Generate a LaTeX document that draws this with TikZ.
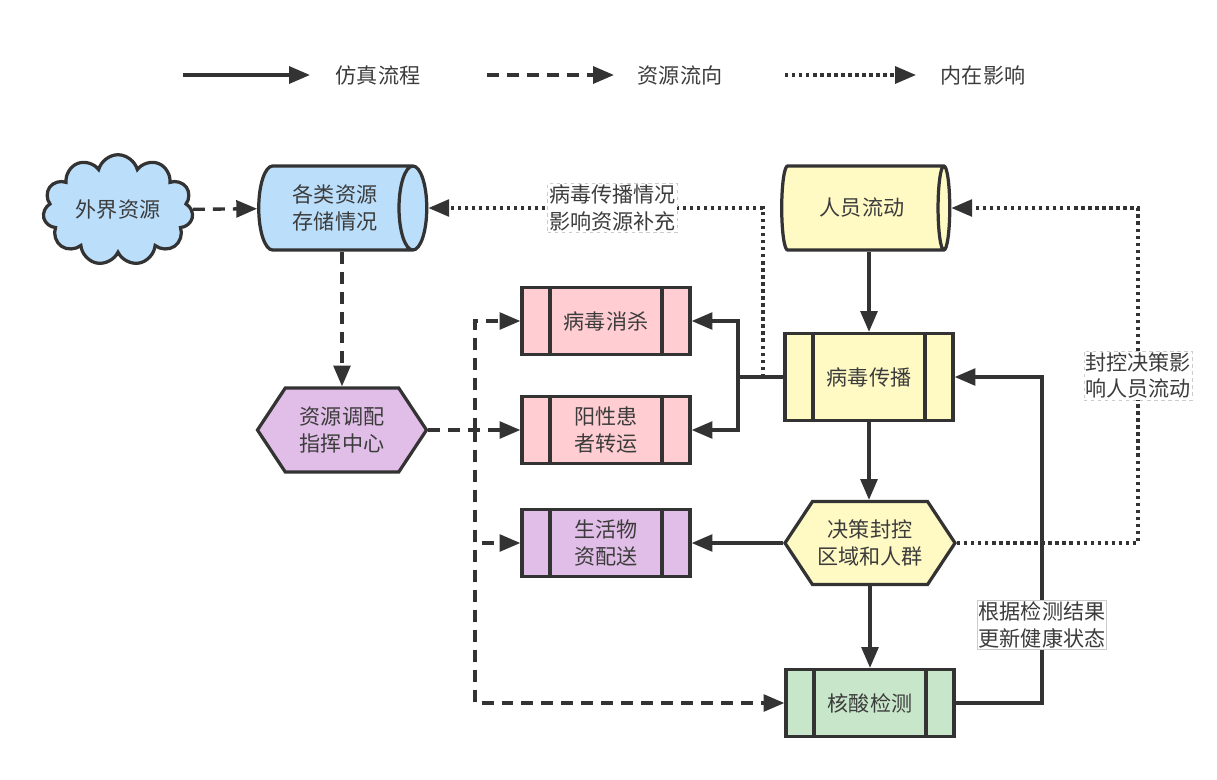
\documentclass[tikz,border=0pt]{standalone}
\usepackage{fontspec}
\setmainfont{Noto Sans CJK SC}
\usepackage{tikz}
\usetikzlibrary{arrows.meta,shapes,positioning}
\usepackage{xcolor}
\definecolor{lc}{HTML}{333333}
\definecolor{txt}{HTML}{3C3C3C}
\definecolor{cblue}{HTML}{BBDEFB}
\definecolor{cyellow}{HTML}{FFF9C4}
\definecolor{cpink}{HTML}{FFCDD2}
\definecolor{cpurple}{HTML}{E1BEE7}
\definecolor{cgreen}{HTML}{C8E6C9}

\begin{document}
\begin{tikzpicture}[x=0.025cm, y=-0.025cm]
	\fontsize{15pt}{19pt}\selectfont
	\newcommand\lw{2.3pt}
	\newcommand\bw{4.2cm}
	\newcommand\bh{1.675cm}
	\newcommand\sidebar{0.7cm}
	\tikzset{
		every node/.style = {text=txt, align=center},
		link/.style = {draw=lc, line width=2.4pt, -{Triangle[length=5.2mm, width=4.2mm]}},
		simflow/.style = {link},
		resflow/.style = {link, dash pattern=on 8.5pt off 5.7pt},
		effect/.style = {link, dash pattern=on 2.4pt off 2.6pt},
		procbox/.style = {
			draw=lc, line width=\lw, minimum width=\bw, minimum height=\bh,
			path picture={
				\draw[lc, line width=\lw]
					([xshift=\sidebar]path picture bounding box.north west) --
					([xshift=\sidebar]path picture bounding box.south west)
					([xshift=-\sidebar]path picture bounding box.north east) --
					([xshift=-\sidebar]path picture bounding box.south east);
			},
		},
		hexbox/.style = {
			signal, signal to=west and east, signal pointer angle=113,
			draw=lc, line width=\lw, minimum width=4.225cm, minimum height=2.1cm, inner sep=0pt,
		},
		drum/.style = {
			cylinder, shape aspect=0.6, draw=lc, line width=\lw,
			minimum width=2.1cm, minimum height=4.2cm, inner sep=0pt,
		},
		lbl/.style = {fill=white, draw=black!20, line width=0.5pt, inner sep=1pt},
	}
	\useasboundingbox (0,0) rectangle (1217,779);

	% legend
	\coordinate (l1a) at (183,75);
	\coordinate (l1b) at (310,75);
	\coordinate (l2a) at (487,75);
	\coordinate (l2b) at (614,75);
	\coordinate (l3a) at (785,75);
	\coordinate (l3b) at (916,75);
	\node (leg1) at (378,75) {仿真流程};
	\node (leg2) at (680,75) {资源流向};
	\node (leg3) at (983,75) {内在影响};
	\draw[simflow] (l1a) -- (l1b);
	\draw[resflow] (l2a) -- (l2b);
	\draw[effect] (l3a) -- (l3b);

	% resource side
	\node[cloud, cloud puffs=11, aspect=1.35, draw=lc, line width=\lw, fill=cblue,
		minimum width=3.75cm, minimum height=2.75cm, inner sep=0pt] (ext) at (118,210) {外界资源};
	\node[drum, fill=cblue] (store) at (335,208) {各类资源\\存储情况};
	\node[hexbox, fill=cpurple] (dispatch) at (342,430) {资源调配\\指挥中心};

	% measures
	\node[procbox, fill=cpink] (disinf) at (606,321) {病毒消杀};
	\node[procbox, fill=cpink] (transfer) at (606,430) {阳性患\\者转运};
	\node[procbox, fill=cpurple] (supply) at (606,543) {生活物\\资配送};

	% epidemic side
	\node[drum, fill=cyellow] (people) at (862,208) {人员流动};
	\node[procbox, fill=cyellow, minimum height=2.175cm] (spread) at (869,377) {病毒传播};
	\node[hexbox, fill=cyellow, minimum width=4.25cm, minimum height=2.075cm] (lockdown) at (870,543) {决策封控\\区域和人群};
	\node[procbox, fill=cgreen] (test) at (870,703) {核酸检测};

	% helper points
	\coordinate (bus) at (475,430);
	\coordinate (split) at (738,377);
	\coordinate (tap) at (763,377);
	\coordinate (fb) at (1042,703);
	\coordinate (lk) at (1138,543);

	% resource flow
	\draw[resflow] (ext) -- (store);
	\draw[resflow] (dispatch.north |- store.south) -- (dispatch.north);
	\draw[resflow] (dispatch.east) -- (transfer.west);
	\draw[resflow] (bus) |- (disinf.west);
	\draw[resflow] (bus) |- (supply.west);
	\draw[resflow] (bus) |- (test.west);

	% simulation flow
	\draw[simflow] (spread.north |- people.south) -- (spread.north);
	\draw[simflow] (spread.west) -- (split) |- (disinf.east);
	\draw[simflow] (split) |- (transfer.east);
	\draw[simflow] (spread.south) -- (spread.south |- lockdown.north);
	\draw[simflow] (lockdown.west) -- (supply.east);
	\draw[simflow] (lockdown.south) -- (test.north);
	\draw[simflow] (test.east) -- (fb) |- node[lbl, pos=0.12] (lab2) {根据检测结果\\更新健康状态} (spread.east);

	% inner effects
	\draw[effect] (tap) |- node[lbl, pos=0.725] (lab1) {病毒传播情况\\影响资源补充} (store.east);
	\draw[effect] (lockdown.east) -- (lk) |- node[lbl, pos=0.25] (lab3) {封控决策影\\响人员流动} (people.east);
\end{tikzpicture}
\end{document}
